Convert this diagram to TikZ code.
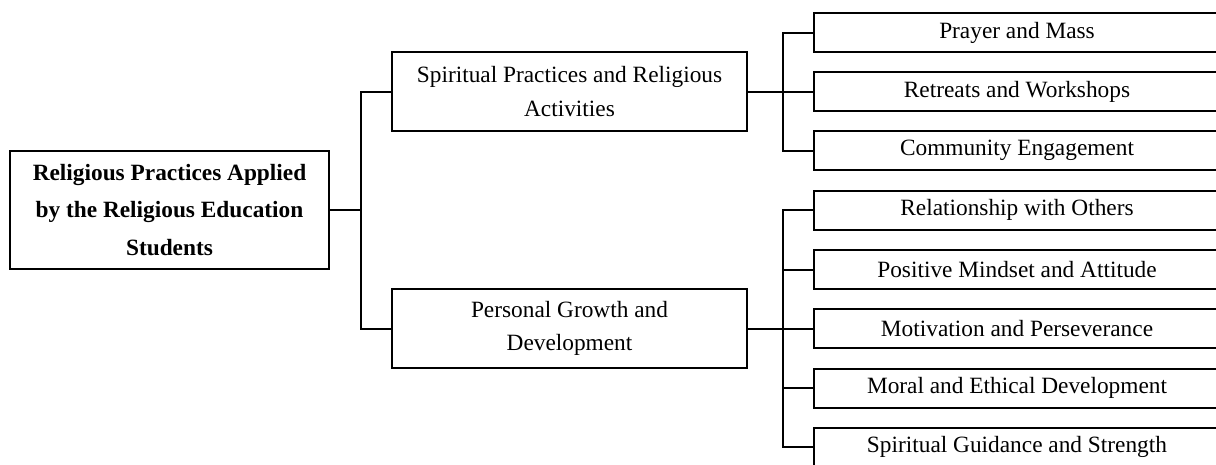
\documentclass[tikz,border=0pt]{standalone}
\usepackage{fontspec}
\setmainfont{Liberation Serif}
\usetikzlibrary{positioning}

\tikzset{
  box/.style={draw, line width=1.5pt, align=center, inner sep=0pt,
    font=\fontsize{17.5}{25}\selectfont},
  rootbox/.style={box, minimum width=239.25pt, minimum height=88.5pt,
    font=\fontsize{17.5}{28}\selectfont\bfseries},
  midbox/.style={box, minimum width=266.25pt, minimum height=59.25pt},
  leafbox/.style={box, minimum width=304.5pt, minimum height=29.25pt},
  link/.style={line width=1.5pt}
}

\begin{document}
\begin{tikzpicture}[x=0.75pt, y=-0.75pt]
    \useasboundingbox (0,0) rectangle (1216,464);

    % Main box
    \node[rootbox] (root) at (169.5,210) {Religious Practices Applied\\by the Religious Education\\Students};

    % Second level
    \node[midbox] (sp) at (569.5,91.5) {Spiritual Practices and Religious\\Activities};
    \node[midbox] (pg) at (569.5,328.5) {Personal Growth and\\Development};

    % Leaves
    \foreach \i/\y/\txt in {1/32.5/Prayer and Mass, 2/91.5/Retreats and Workshops,
        3/150.5/Community Engagement, 4/210/Relationship with Others,
        5/269.5/Positive Mindset and Attitude, 6/328.5/Motivation and Perseverance,
        7/388/Moral and Ethical Development, 8/447/Spiritual Guidance and Strength}
      \node[leafbox] (l\i) at (1017,\y) {\txt};

    % Root to second level
    \coordinate (t1) at (361,210);
    \draw[link] (root.east) -- (t1);
    \draw[link] (sp.west) -| (t1) |- (pg.west);

    % Spiritual branch
    \coordinate (t2) at (783,91.5);
    \draw[link] (sp.east) -- (l2.west);
    \draw[link] (l1.west) -| (t2) |- (l3.west);

    % Personal branch
    \coordinate (t3) at (783,328.5);
    \draw[link] (pg.east) -- (l6.west);
    \draw[link] (l4.west) -| (t3) |- (l8.west);
    \foreach \k in {5,7} \draw[link] (t3) |- (l\k.west);
\end{tikzpicture}
\end{document}
